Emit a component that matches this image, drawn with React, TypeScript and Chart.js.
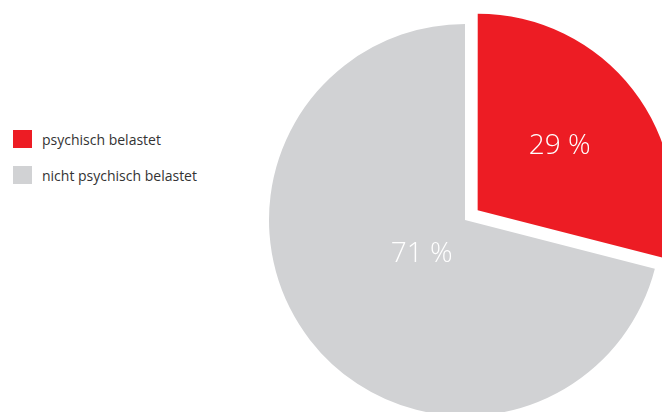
import React, { useEffect, useRef } from "react";
import { Chart, registerables } from "chart.js";

Chart.register(...registerables);

const categories = ["psychisch belastet", "nicht psychisch belastet"];
const values = [29, 71];
const valueLabels = ["29 %", "71 %"];
const colors = ["#ED1C24", "#D1D2D4"];

export default function App() {
  const ref = useRef<HTMLCanvasElement | null>(null);

  useEffect(() => {
    document.body.style.margin = "0";
    document.body.style.overflow = "hidden";
    const labelFrac = [0.53, 0.28];
    const labelPlugin = {
      id: "sliceLabels",
      afterDatasetsDraw(chart: any) {
        const ctx = chart.ctx;
        const meta = chart.getDatasetMeta(0);
        ctx.save();
        ctx.fillStyle = "#ffffff";
        ctx.font = "300 28px 'Open Sans', sans-serif";
        ctx.textAlign = "center";
        ctx.textBaseline = "middle";
        meta.data.forEach((arc: any, i: number) => {
          const p = arc.getProps(["x", "y", "startAngle", "endAngle", "outerRadius"], true);
          const mid = (p.startAngle + p.endAngle) / 2;
          const off = ((chart.data.datasets[0].offset as number[])[i] || 0) / 4;
          const cx = p.x + Math.cos(mid) * off;
          const cy = p.y + Math.sin(mid) * off;
          const r = p.outerRadius * labelFrac[i];
          ctx.fillText(valueLabels[i], cx + Math.cos(mid) * r, cy + Math.sin(mid) * r);
        });
        ctx.restore();
      },
    };
    const chart = new Chart(ref.current!, {
      type: "pie",
      data: {
        labels: categories,
        datasets: [
          {
            data: values,
            backgroundColor: colors,
            borderWidth: 0,
            offset: [64, 0],
          },
        ],
      },
      options: {
        animation: false,
        responsive: false,
        radius: 196,
        layout: { padding: 0 },
        plugins: { legend: { display: false }, tooltip: { enabled: false } },
      },
      plugins: [labelPlugin],
    });
    return () => chart.destroy();
  }, []);

  return (
    <div
      style={{
        position: "fixed",
        left: 0,
        top: 0,
        width: 662,
        height: 412,
        overflow: "hidden",
        background: "#ffffff",
        fontFamily: "'Open Sans', sans-serif",
      }}
    >
      <canvas
        ref={ref}
        width={420}
        height={420}
        style={{ position: "absolute", left: 254.5, top: 10, width: 420, height: 420 }}
      />
      {categories.map((c, i) => (
        <div
          key={c}
          style={{
            position: "absolute",
            left: 13,
            top: 130 + i * 36,
            height: 18,
            display: "flex",
            alignItems: "center",
            fontSize: 14,
            color: "#333333",
            whiteSpace: "nowrap",
          }}
        >
          <span
            style={{ display: "inline-block", width: 19, height: 18, background: colors[i], marginRight: 10 }}
          />
          {c}
        </div>
      ))}
    </div>
  );
}
